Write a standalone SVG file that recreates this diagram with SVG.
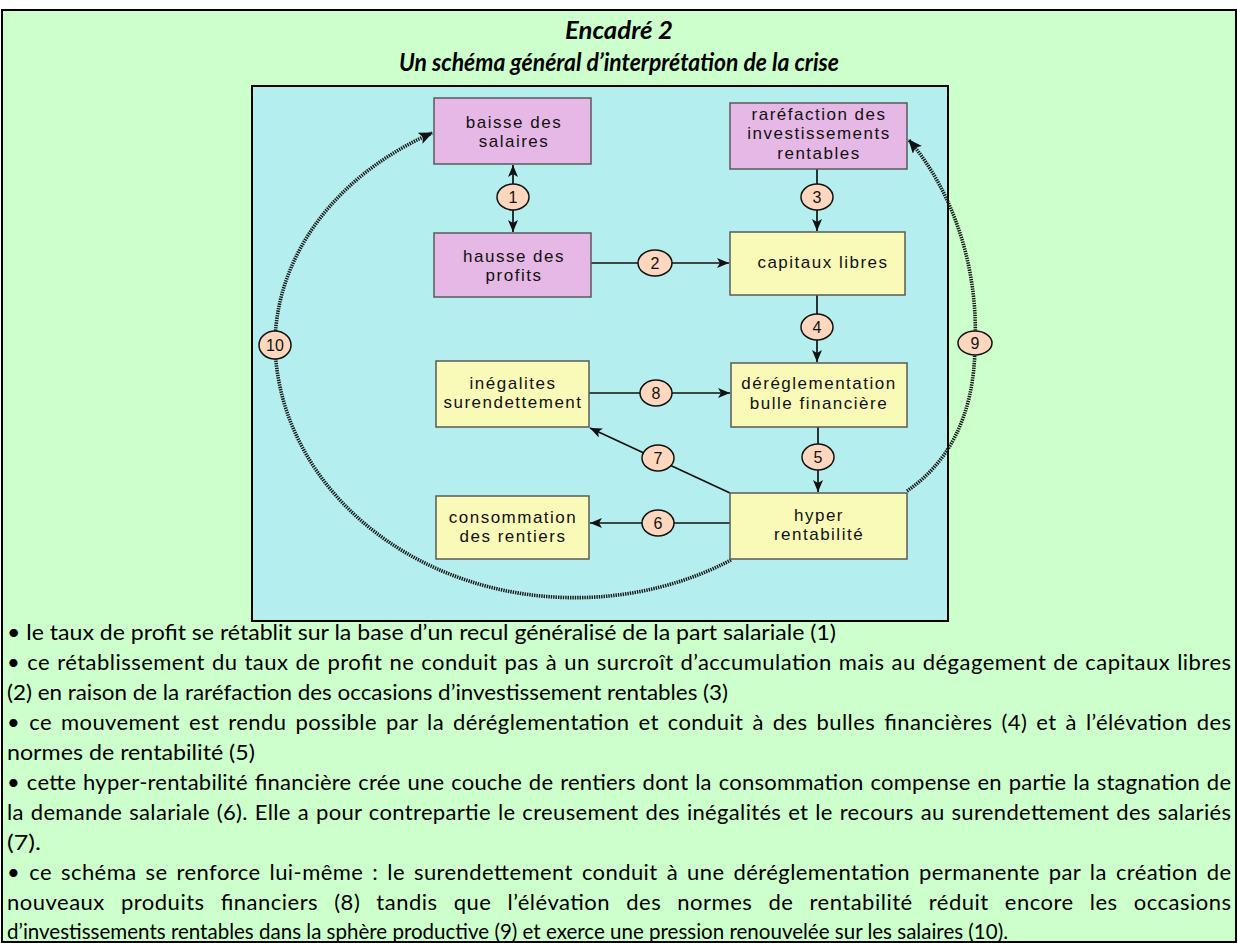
<svg xmlns="http://www.w3.org/2000/svg" width="1238" height="943" viewBox="0 0 1238 943">
<style>
.frame{fill:#CCFFCC;stroke:#000;stroke-width:2}
.panel{fill:#B4EEEE;stroke:#000;stroke-width:2}
.pink{fill:#E6B8E6;stroke:#5a5a5a;stroke-width:1.5}
.yel{fill:#FAFAB8;stroke:#5a5a5a;stroke-width:1.5}
.nt{font-family:"Liberation Sans",Arial,sans-serif;font-size:17px;letter-spacing:1.5px;fill:#111;text-anchor:middle}
.num{fill:#FFD7BE;stroke:#111;stroke-width:1.5}
.nl{font-family:"Liberation Sans",Arial,sans-serif;font-size:16px;fill:#111;text-anchor:middle}
.edge{fill:none;stroke:#111;stroke-width:1.7}
.dot{fill:none;stroke:#1a1a1a;stroke-width:3.6;stroke-dasharray:1.4 1}
.title{font-family:Lato,"Liberation Sans",sans-serif;font-weight:bold;font-style:italic;font-size:25px;fill:#000;text-anchor:middle}
.body{font-family:Lato,"Liberation Sans",sans-serif;font-size:22px;fill:#000}
</style>
<defs>
<marker id="ah" markerUnits="userSpaceOnUse" markerWidth="14" markerHeight="12" refX="12" refY="5" orient="auto-start-reverse">
<path d="M0,0 L12,5 L0,10 L3,5 z" fill="#111"/>
</marker>
<marker id="ahd" markerUnits="userSpaceOnUse" markerWidth="16" markerHeight="14" refX="13" refY="6" orient="auto">
<path d="M0,0 L14,6 L0,12 L3,6 z" fill="#111"/>
</marker>
</defs>
<rect class="frame" x="2" y="10" width="1234" height="932"/>
<g id="title">
<text class="title" x="619" y="39" textLength="108" lengthAdjust="spacingAndGlyphs">Encadré 2</text>
<text class="title" x="619" y="71" textLength="440" lengthAdjust="spacingAndGlyphs">Un schéma général d’interprétation de la crise</text>
</g>
<rect class="panel" x="252" y="86" width="696" height="535"/>
<g id="connectors">
<line class="edge" x1="513" y1="165" x2="513" y2="232" marker-start="url(#ah)" marker-end="url(#ah)"/>
<line class="edge" x1="591" y1="263" x2="729" y2="263" marker-end="url(#ah)"/>
<line class="edge" x1="817" y1="169" x2="817" y2="231" marker-end="url(#ah)"/>
<line class="edge" x1="817" y1="295" x2="817" y2="362" marker-end="url(#ah)"/>
<line class="edge" x1="818" y1="427" x2="818" y2="492" marker-end="url(#ah)"/>
<line class="edge" x1="730" y1="523" x2="590" y2="523" marker-end="url(#ah)"/>
<line class="edge" x1="730" y1="493" x2="590" y2="428" marker-end="url(#ah)"/>
<line class="edge" x1="589" y1="393" x2="730" y2="393" marker-end="url(#ah)"/>
<path class="dot" d="M907,491 C945,465 975,420 975,343 C978,280 960,200 909,140" marker-end="url(#ahd)"/>
<path class="dot" d="M731,560 A300 258 0 0 1 275,345 A300 242 0 0 1 432,133" marker-end="url(#ahd)"/>
<ellipse class="num" cx="513" cy="197" rx="16" ry="13"/><text class="nl" x="513" y="203">1</text>
<ellipse class="num" cx="655" cy="263" rx="17" ry="13"/><text class="nl" x="655" y="269">2</text>
<ellipse class="num" cx="817" cy="197" rx="16" ry="13"/><text class="nl" x="817" y="203">3</text>
<ellipse class="num" cx="817" cy="327" rx="16" ry="13"/><text class="nl" x="817" y="333">4</text>
<ellipse class="num" cx="818" cy="457" rx="16" ry="13"/><text class="nl" x="818" y="463">5</text>
<ellipse class="num" cx="658" cy="523" rx="16" ry="13"/><text class="nl" x="658" y="529">6</text>
<ellipse class="num" cx="658" cy="458" rx="16" ry="13"/><text class="nl" x="658" y="464">7</text>
<ellipse class="num" cx="656" cy="393" rx="16" ry="13"/><text class="nl" x="656" y="399">8</text>
<ellipse class="num" cx="975" cy="343" rx="17" ry="12"/><text class="nl" x="975" y="349">9</text>
<ellipse class="num" cx="275" cy="345" rx="16" ry="14"/><text class="nl" x="275" y="351">10</text>
</g>
<g id="n-baisse"><rect class="pink" x="434" y="98" width="157" height="66"/>
<text class="nt" x="514" y="128">baisse des</text><text class="nt" x="514" y="147">salaires</text></g>
<g id="n-rarefaction"><rect class="pink" x="730" y="103" width="177" height="66"/>
<text class="nt" x="819" y="120">raréfaction des</text><text class="nt" x="819" y="139">investissements</text><text class="nt" x="819" y="159">rentables</text></g>
<g id="n-hausse"><rect class="pink" x="434" y="233" width="157" height="64"/>
<text class="nt" x="514" y="262">hausse des</text><text class="nt" x="514" y="281">profits</text></g>
<g id="n-capitaux"><rect class="yel" x="730" y="232" width="175" height="63"/>
<text class="nt" x="823" y="268">capitaux libres</text></g>
<g id="n-inegalites"><rect class="yel" x="436" y="361" width="153" height="66"/>
<text class="nt" x="513" y="389">inégalites</text><text class="nt" x="513" y="408">surendettement</text></g>
<g id="n-dereglementation"><rect class="yel" x="731" y="363" width="176" height="64"/>
<text class="nt" x="819" y="389">déréglementation</text><text class="nt" x="819" y="409">bulle financière</text></g>
<g id="n-hyper"><rect class="yel" x="730" y="493" width="177" height="66"/>
<text class="nt" x="819" y="521">hyper</text><text class="nt" x="819" y="540">rentabilité</text></g>
<g id="n-consommation"><rect class="yel" x="436" y="496" width="153" height="63"/>
<text class="nt" x="513" y="523">consommation</text><text class="nt" x="513" y="542">des rentiers</text></g>
<g id="body">
<text class="body" x="7" y="640" textLength="829" lengthAdjust="spacingAndGlyphs">• le taux de profit se rétablit sur la base d’un recul généralisé de la part salariale (1)</text>
<text class="body" x="7" y="670" textLength="1224" lengthAdjust="spacing" word-spacing="1">• ce rétablissement du taux de profit ne conduit pas à un surcroît d’accumulation mais au dégagement de capitaux libres</text>
<text class="body" x="7" y="700" textLength="721" lengthAdjust="spacingAndGlyphs">(2) en raison de la raréfaction des occasions d’investissement rentables (3)</text>
<text class="body" x="7" y="730" textLength="1224" lengthAdjust="spacing" word-spacing="3">• ce mouvement est rendu possible par la déréglementation et conduit à des bulles financières (4) et à l’élévation des</text>
<text class="body" x="7" y="760" textLength="248" lengthAdjust="spacingAndGlyphs">normes de rentabilité (5)</text>
<text class="body" x="7" y="790" textLength="1224" lengthAdjust="spacing" word-spacing="1">• cette hyper-rentabilité financière crée une couche de rentiers dont la consommation compense en partie la stagnation de</text>
<text class="body" x="7" y="820" textLength="1224" lengthAdjust="spacing" word-spacing="1">la demande salariale (6). Elle a pour contrepartie le creusement des inégalités et le recours au surendettement des salariés</text>
<text class="body" x="7" y="850" textLength="34" lengthAdjust="spacingAndGlyphs">(7).</text>
<text class="body" x="7" y="880" textLength="1224" lengthAdjust="spacing" word-spacing="3">• ce schéma se renforce lui-même : le surendettement conduit à une déréglementation permanente par la création de</text>
<text class="body" x="7" y="910" textLength="1224" lengthAdjust="spacing" word-spacing="10">nouveaux produits financiers (8) tandis que l’élévation des normes de rentabilité réduit encore les occasions</text>
<text class="body" x="7" y="939" textLength="1001" lengthAdjust="spacingAndGlyphs">d’investissements rentables dans la sphère productive (9) et exerce une pression renouvelée sur les salaires (10).</text>
</g>
</svg>
